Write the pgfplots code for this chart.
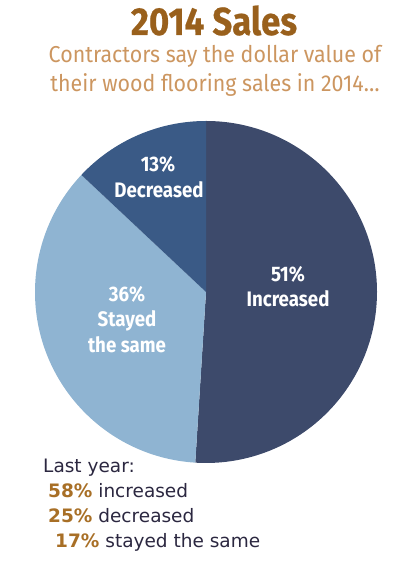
\documentclass[border=0pt]{standalone}
\usepackage{fontspec}
\usepackage{pgfplots}
\usepackage{pgfplotstable}
\pgfplotsset{compat=1.18}
\newfontfamily\din[FakeStretch=0.93]{Fira Sans}
\newfontfamily\dinb[FakeStretch=0.89]{Fira Sans Bold}
\newfontfamily\dintitle[FakeStretch=0.89, FakeBold=0.6]{Fira Sans Bold}
\newfontfamily\verd{DejaVu Sans}
\definecolor{titlebrown}{HTML}{99601C}
\definecolor{subbrown}{HTML}{CC9660}
\definecolor{pctbrown}{HTML}{A86F26}
\definecolor{darktext}{HTML}{2B2740}
\definecolor{cInc}{HTML}{3D4A6B}
\definecolor{cSame}{HTML}{8FB4D2}
\definecolor{cDec}{HTML}{3A5A86}
\pgfplotstableread{
label value
Increased 51
Same 36
Decreased 13
}\piedata
\pgfplotstablegetelem{0}{value}\of\piedata \let\vA\pgfplotsretval
\pgfplotstablegetelem{1}{value}\of\piedata \let\vB\pgfplotsretval
\pgfplotstablegetelem{2}{value}\of\piedata \let\vC\pgfplotsretval
\pgfmathsetmacro\aA{90-3.6*\vA}
\pgfmathsetmacro\aB{\aA-3.6*\vB}
\pgfmathsetmacro\aC{\aB-3.6*\vC}
\begin{document}
\begin{tikzpicture}
\begin{axis}[scale only axis, width=400pt, height=569pt,
  xmin=0, xmax=400, ymin=0, ymax=569, hide axis, clip=false]
\path[draw=none, fill=none] (axis cs:0,0) rectangle (axis cs:400,569);
% pie: center (206, 569-292), radius 171
\fill[cInc] (axis cs:206,277) -- ++(90:171pt) arc[start angle=90, end angle=\aA, radius=171pt] -- cycle;
\fill[cSame] (axis cs:206,277) -- ++(\aA:171pt) arc[start angle=\aA, end angle=\aB, radius=171pt] -- cycle;
\fill[cDec] (axis cs:206,277) -- ++(\aB:171pt) arc[start angle=\aB, end angle=\aC, radius=171pt] -- cycle;
% titles
\node[anchor=base, text=titlebrown, font=\dintitle\fontsize{39}{39}\selectfont] at (axis cs:214,534) {2014 Sales};
\node[anchor=base, text=subbrown, font=\din\fontsize{23}{23}\selectfont] at (axis cs:215,506) {Contractors say the dollar value of};
\node[anchor=base, text=subbrown, font=\din\fontsize{23}{23}\selectfont] at (axis cs:215,477) {their wood flooring sales in 2014\ldots};
% pie labels
\begin{scope}[every node/.style={anchor=base, text=white, font=\dinb\fontsize{21}{21}\selectfont}]
\node at (axis cs:158,397) {13\%};
\node at (axis cs:159,371) {Decreased};
\node at (axis cs:288,287) {51\%};
\node at (axis cs:288,262) {Increased};
\node at (axis cs:127,267) {36\%};
\node at (axis cs:127,242) {Stayed};
\node at (axis cs:127,216) {the same};
\end{scope}
% last year
\begin{scope}[every node/.style={anchor=base west, inner sep=0pt, font=\verd\fontsize{18.5}{18.5}\selectfont, text=darktext}]
\node at (axis cs:43,96) {Last year:};
\node at (axis cs:48,71) {\textcolor{pctbrown}{\bfseries 58\%} increased};
\node at (axis cs:48,46) {\textcolor{pctbrown}{\bfseries 25\%} decreased};
\node at (axis cs:55,21) {\textcolor{pctbrown}{\bfseries 17\%} stayed the same};
\end{scope}
\end{axis}
\end{tikzpicture}
\end{document}
